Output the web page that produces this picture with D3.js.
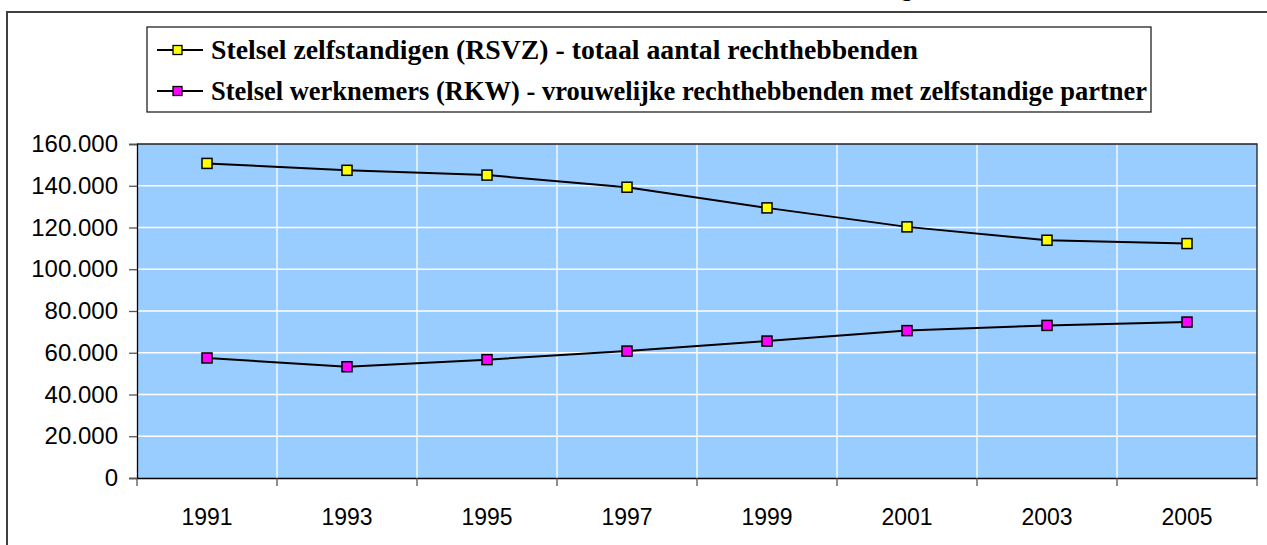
<!DOCTYPE html>
<html>
<head>
<meta charset="utf-8">
<script src="https://cdn.jsdelivr.net/npm/d3@7"></script>
<style>
  body { margin: 0; background: #fff; }
  svg { display: block; }
  .sans { font-family: "Liberation Sans", Arial, sans-serif; }
  .serif { font-family: "Liberation Serif", "Times New Roman", serif; }
</style>
</head>
<body>
<div id="chart"></div>
<script>
// data
const years = ["1991", "1993", "1995", "1997", "1999", "2001", "2003", "2005"];
const rsvzTotal = [150700, 147400, 145100, 139300, 129400, 120300, 113900, 112300];
const rkwWomen = [57500, 53300, 56700, 60800, 65600, 70600, 73100, 74700];
const yTicks = [0, 20000, 40000, 60000, 80000, 100000, 120000, 140000, 160000];
const seriesNames = [
    "Stelsel zelfstandigen (RSVZ) - totaal aantal rechthebbenden",
    "Stelsel werknemers (RKW) - vrouwelijke rechthebbenden met zelfstandige partner"
];

const W = 1267, H = 545;
const svg = d3.select("#chart").append("svg")
    .attr("width", W)
    .attr("height", H);

// outer chart border (runs off the picture right and bottom)
svg.append("rect")
    .attr("x", 7).attr("y", 12)
    .attr("width", 1400).attr("height", 700)
    .attr("fill", "none")
    .attr("stroke", "#404040")
    .attr("stroke-width", 2);

// clipped title, only the descender shows
svg.append("text")
    .attr("class", "serif")
    .attr("x", 907).attr("y", -4)
    .attr("text-anchor", "middle")
    .attr("font-weight", "bold")
    .attr("font-size", 24)
    .text("g");

const plot = {left: 137, right: 1257, top: 144, bottom: 478};

const x = d3.scaleBand()
    .domain(years)
    .range([plot.left, plot.right]);

const y = d3.scaleLinear()
    .domain([0, 160000])
    .range([plot.bottom, plot.top]);

// plot background
svg.append("rect")
    .attr("x", plot.left).attr("y", plot.top)
    .attr("width", plot.right - plot.left)
    .attr("height", plot.bottom - plot.top)
    .attr("fill", "#99ccff");

// gridlines
svg.append("g").selectAll("line")
    .data(yTicks.slice(1, -1))
    .enter().append("line")
    .attr("x1", plot.left).attr("x2", plot.right)
    .attr("y1", d => y(d)).attr("y2", d => y(d))
    .attr("stroke", "#fff")
    .attr("stroke-width", 1.3);

svg.append("g").selectAll("line")
    .data(years.slice(1))
    .enter().append("line")
    .attr("x1", d => x(d)).attr("x2", d => x(d))
    .attr("y1", plot.top).attr("y2", plot.bottom)
    .attr("stroke", "#fff")
    .attr("stroke-width", 1.3);

// plot frame top and right
svg.append("path")
    .attr("d", `M${plot.left},${plot.top}H${plot.right}V${plot.bottom}`)
    .attr("fill", "none")
    .attr("stroke", "#222")
    .attr("stroke-width", 1.3);

// y axis
const fmt = d => d3.format(",")(d).replace(/,/g, ".");
const yAxis = svg.append("g")
    .attr("transform", `translate(${plot.left},0)`)
    .call(d3.axisLeft(y).tickValues(yTicks).tickFormat(fmt).tickSize(8).tickPadding(11));
yAxis.attr("font-family", null);
yAxis.select(".domain").attr("stroke", "#000").attr("stroke-width", 1.3);
yAxis.selectAll(".tick line").attr("stroke", "#555").attr("stroke-width", 1.3);
yAxis.selectAll("text")
    .attr("class", "sans")
    .attr("font-size", 24)
    .attr("fill", "#000");

// x axis with ticks on band boundaries
const xAxis = svg.append("g")
    .attr("transform", `translate(0,${plot.bottom})`)
    .call(d3.axisBottom(x).tickSize(0).tickPadding(31));
xAxis.attr("font-family", null);
xAxis.select(".domain").attr("stroke", "#000").attr("stroke-width", 1.3);
xAxis.selectAll("text")
    .attr("class", "sans")
    .attr("font-size", 23)
    .attr("fill", "#000");
xAxis.selectAll(".bound")
    .data(years.map(d => x(d)).concat([plot.right]))
    .enter().append("line")
    .attr("class", "bound")
    .attr("x1", d => d).attr("x2", d => d)
    .attr("y1", 0).attr("y2", 8)
    .attr("stroke", "#555")
    .attr("stroke-width", 1.3);

// series
const series = [
    {name: seriesNames[0], values: rsvzTotal, color: "#ffff00"},
    {name: seriesNames[1], values: rkwWomen, color: "#ff00ff"}
];

const line = d3.line()
    .x((d, i) => x(years[i]) + x.bandwidth() / 2)
    .y(d => y(d));

series.forEach(s => {
    svg.append("path")
        .datum(s.values)
        .attr("d", line)
        .attr("fill", "none")
        .attr("stroke", "#000")
        .attr("stroke-width", 2);

    svg.append("g").selectAll("rect")
        .data(s.values)
        .enter().append("rect")
        .attr("x", (d, i) => x(years[i]) + x.bandwidth() / 2 - 5)
        .attr("y", d => y(d) - 5)
        .attr("width", 10).attr("height", 10)
        .attr("fill", s.color)
        .attr("stroke", "#000")
        .attr("stroke-width", 1.5);
});

// legend
const legend = svg.append("g");
legend.append("rect")
    .attr("x", 147).attr("y", 27)
    .attr("width", 1004).attr("height", 85)
    .attr("fill", "#fff")
    .attr("stroke", "#222")
    .attr("stroke-width", 1.3);

const legendRows = [{y: 50, len: 707}, {y: 91, len: 936}];
series.forEach((s, i) => {
    const row = legendRows[i];
    legend.append("line")
        .attr("x1", 157).attr("x2", 203)
        .attr("y1", row.y).attr("y2", row.y)
        .attr("stroke", "#000").attr("stroke-width", 2);
    legend.append("rect")
        .attr("x", 173).attr("y", row.y - 4.5)
        .attr("width", 9).attr("height", 9)
        .attr("fill", s.color)
        .attr("stroke", "#000")
        .attr("stroke-width", 1.3);
    legend.append("text")
        .attr("class", "serif")
        .attr("x", 211).attr("y", row.y + 9)
        .attr("font-weight", "bold")
        .attr("font-size", 27)
        .attr("textLength", row.len)
        .attr("lengthAdjust", "spacingAndGlyphs")
        .text(s.name);
});
</script>
</body>
</html>
